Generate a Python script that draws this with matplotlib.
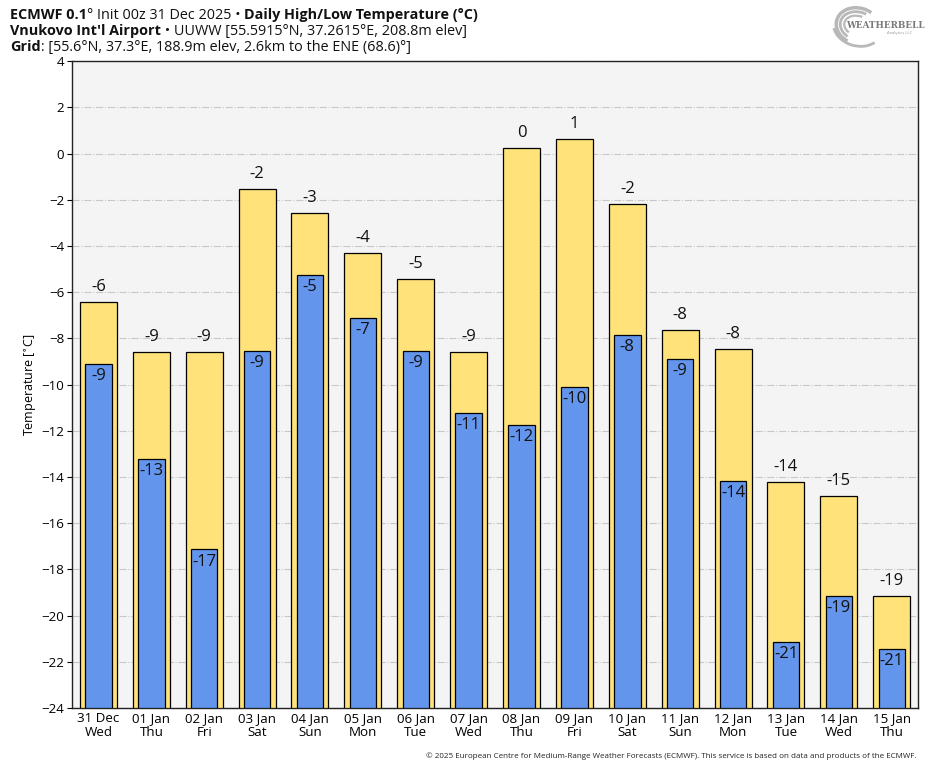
import matplotlib
matplotlib.use("Agg")
import matplotlib.pyplot as plt
from matplotlib.patches import Arc
import numpy as np

plt.rcParams['font.family'] = ['Open Sans', 'DejaVu Sans']

# data
dates = ["31 Dec", "01 Jan", "02 Jan", "03 Jan", "04 Jan", "05 Jan", "06 Jan", "07 Jan",
         "08 Jan", "09 Jan", "10 Jan", "11 Jan", "12 Jan", "13 Jan", "14 Jan", "15 Jan"]
weekdays = ["Wed", "Thu", "Fri", "Sat", "Sun", "Mon", "Tue", "Wed",
            "Thu", "Fri", "Sat", "Sun", "Mon", "Tue", "Wed", "Thu"]
highs = [-6.43, -8.6, -8.6, -1.55, -2.58, -4.31, -5.44, -8.6,
         0.25, 0.62, -2.19, -7.64, -8.47, -14.23, -14.83, -19.13]
lows = [-9.11, -13.23, -17.13, -8.55, -5.26, -7.13, -8.55, -11.24,
        -11.76, -10.11, -7.86, -8.9, -14.18, -21.15, -19.13, -21.45]

fig = plt.figure(figsize=(9.35, 7.68), dpi=100)
ax = fig.add_axes([0.077, 0.078, 0.905, 0.8424])
ax.set_facecolor('#f4f4f4')

x = np.arange(len(dates))
base = -24
ax.bar(x, np.array(highs) - base, bottom=base, width=0.7, color='#ffe27a',
       edgecolor='black', linewidth=0.9, zorder=3)
ax.bar(x, np.array(lows) - base, bottom=base, width=0.5, color='#6495ed',
       edgecolor='black', linewidth=0.9, zorder=4)

for xi, h in zip(x, highs):
    ax.annotate(f"{round(h):d}", (xi, h), xytext=(0, 5), textcoords='offset points',
                ha='center', va='bottom', fontsize=12, color='#111111', zorder=5)
for xi, l in zip(x, lows):
    ax.annotate(f"{round(l):d}", (xi, l), xytext=(0, -3), textcoords='offset points',
                ha='center', va='top', fontsize=12, color='#111111', zorder=5)

ax.set_xlim(-0.5, len(dates) - 0.5)
ax.set_ylim(-24, 4)
ax.set_yticks(np.arange(-24, 5, 2))
ax.set_xticks(x)
ax.set_xticklabels([f"{d}\n{w}" for d, w in zip(dates, weekdays)], fontsize=9.6,
                   linespacing=1.05)
ax.tick_params(axis='y', labelsize=9.6, pad=2)
ax.tick_params(axis='x', length=0, pad=3)
ax.grid(axis='y', color='#c8c8c8', linestyle='-.', linewidth=0.8, zorder=0)
ax.set_ylabel("Temperature [$^{\\circ}$C]", fontsize=9, labelpad=2)
for s in ax.spines.values():
    s.set_linewidth(1.0)
    s.set_color('#222222')

# title lines with mixed weights
def draw_line(parts, y):
    fig.canvas.draw()
    r = fig.canvas.get_renderer()
    xpos = 10 / 935
    for txt, bold in parts:
        t = fig.text(xpos, y, txt, fontsize=10.4, fontweight='bold' if bold else 'normal',
                     ha='left', va='baseline', color='#111111')
        bb = t.get_window_extent(renderer=r)
        xpos += bb.width / fig.bbox.width

draw_line([("ECMWF 0.1", True), ("° Init 00z 31 Dec 2025 • ", False),
           ("Daily High/Low Temperature (°C)", True)], 1 - 19 / 768)
draw_line([("Vnukovo Int'l Airport", True), (" • UUWW [55.5915°N, 37.2615°E, 208.8m elev]", False)],
          1 - 35 / 768)
draw_line([("Grid", True), (": [55.6°N, 37.3°E, 188.9m elev, 2.6km to the ENE (68.6)°]", False)],
          1 - 51 / 768)

# logo: grey swirl with text
lax = fig.add_axes([830 / 935, 1 - 50 / 768, 100 / 935, 50 / 768])
lax.set_xlim(0, 100)
lax.set_ylim(0, 50)
lax.axis('off')
for w, h, a1, a2, lw in [(44, 36, 60, 250, 2.5), (36, 28, 70, 240, 2.0),
                         (28, 20, 80, 230, 1.6), (50, 40, 200, 330, 2.0)]:
    lax.add_patch(Arc((28, 24), w, h, angle=-15, theta1=a1, theta2=a2,
                      color='#b8b8b8', lw=lw))
lax.text(55, 24, "WEATHERBELL", fontsize=6.3, fontweight='bold', color='#7a7a7a',
         ha='center', va='center', family='DejaVu Serif')
lax.text(70, 17, "Analytics LLC", fontsize=3, color='#999999', ha='center', va='center')

fig.text(917 / 935, 1 - 756 / 768,
         "© 2025 European Centre for Medium-Range Weather Forecasts (ECMWF). "
         "This service is based on data and products of the ECMWF.",
         fontsize=5.8, ha='right', va='center', color='#222222')

fig.savefig("out.png", dpi=100)
